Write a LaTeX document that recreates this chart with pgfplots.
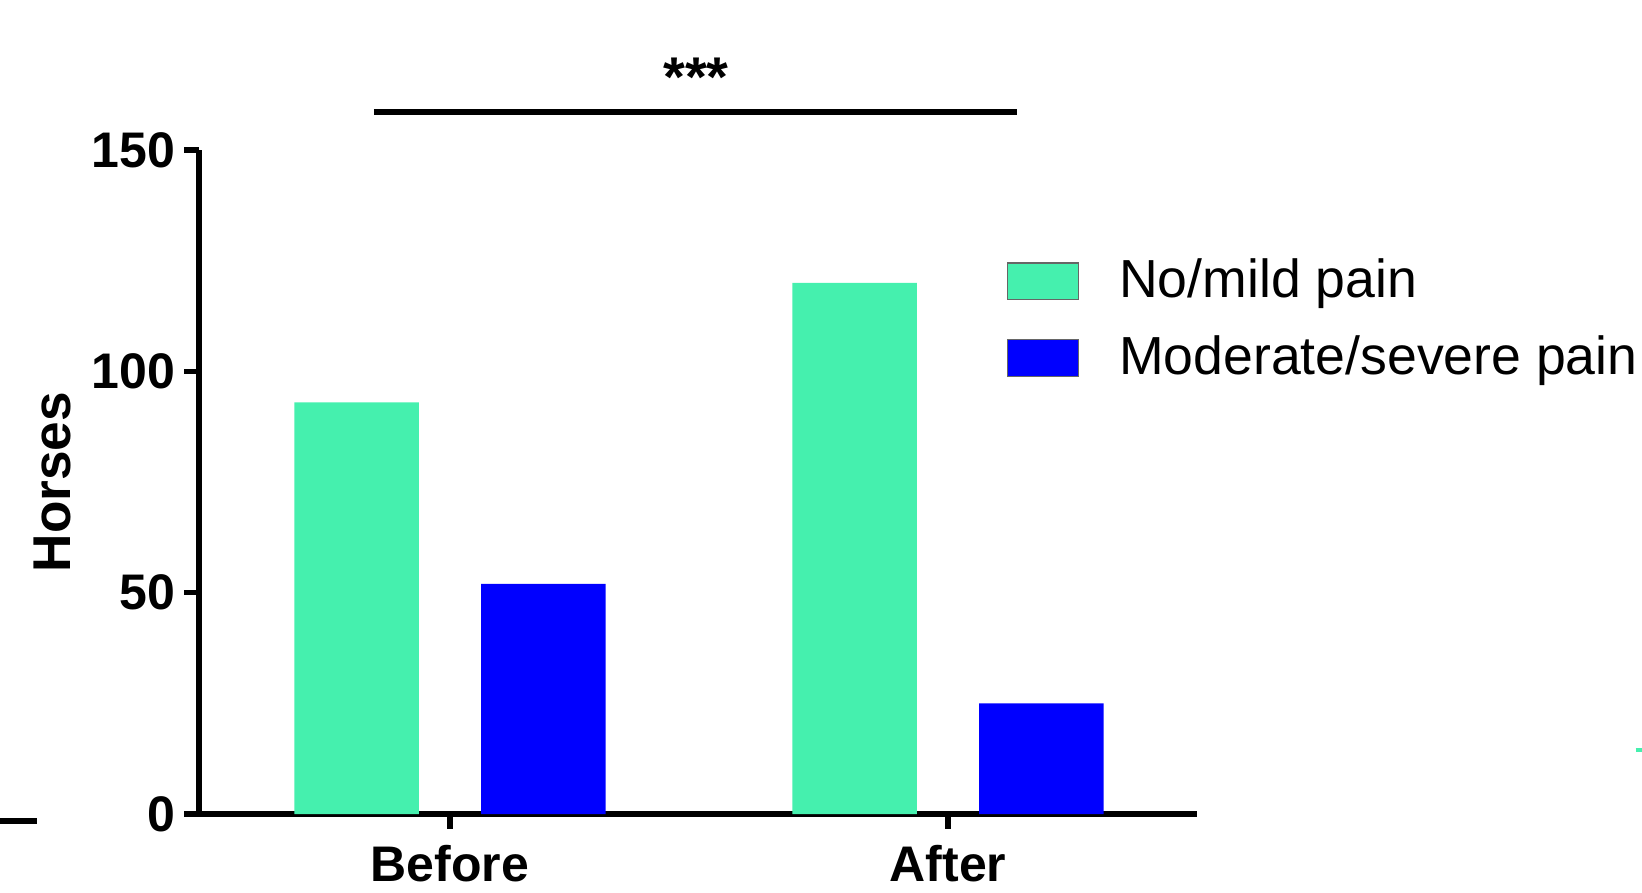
\documentclass[border=0pt]{standalone}
\usepackage{fontspec}
\setmainfont{Liberation Sans}
\usepackage{pgfplots}
\pgfplotsset{compat=1.18}
\definecolor{mint}{RGB}{69,240,174}
\definecolor{pblue}{RGB}{0,0,255}
\begin{document}
\begin{tikzpicture}
\path[use as bounding box] (-49.75pt,-19.5pt) rectangle (360.75pt,203.5pt);
\begin{axis}[
  at={(0pt,0pt)}, anchor=south west,
  scale only axis, width=249.5pt, height=166pt,
  xmin=-0.504, xmax=1.5, ymin=0, ymax=150,
  axis x line=bottom, axis y line=left,
  axis line style={-, line width=1.3pt},
  xtick={0,1}, xticklabels={Before,After},
  ytick={0,50,100,150},
  tick style={line width=1.3pt, black},
  major tick length=3.7pt,
  tick align=outside,
  xtick pos=bottom, ytick pos=left,
  tick label style={font=\bfseries\fontsize{12.5}{14}\selectfont},
  yticklabel style={xshift=1.3pt},
  xticklabel style={yshift=-0.5pt},
  /pgf/number format/assume math mode=true,
  ylabel={Horses},
  ylabel style={font=\bfseries\fontsize{13.3}{15}\selectfont, at={(axis description cs:-0.1473,0.5)}, rotate=0, anchor=center},
  clip=false,
  bar width=0.25,
  legend style={at={(axis description cs:0.8096,0.8358)}, anchor=north west, draw=none, fill=none,
    inner sep=0pt, outer sep=0pt, font=\fontsize{13.4}{15}\selectfont,
    row sep=8pt, nodes={inner sep=0pt}},
  legend cell align=left,
  legend image code/.code={\draw[#1, draw=black!60, line width=0.3pt] (0pt,-4.6pt) rectangle (17.75pt,4.6pt);},
]
\addplot[ybar, fill=mint, draw=none, bar shift=-0.1875] coordinates {(0,93) (1,120)};
\addlegendentry{\hspace{10pt}No/mild pain}
\addplot[ybar, fill=pblue, draw=none, bar shift=0.1875] coordinates {(0,52) (1,25)};
\addlegendentry{\hspace{10pt}Moderate/severe pain}
\draw[line width=1.3pt] (axis cs:-0.153,158.6) -- (axis cs:1.139,158.6);
\node[font=\bfseries\fontsize{14}{16}\selectfont] at (axis cs:0.494,166.5) {***};
\draw[line width=1.3pt] (axis cs:-0.904,-1.58) -- (axis cs:-0.829,-1.58);
\draw[line width=1pt, mint] (axis cs:2.381,14.46) -- (axis cs:2.393,14.46);
\end{axis}
\end{tikzpicture}
\end{document}
